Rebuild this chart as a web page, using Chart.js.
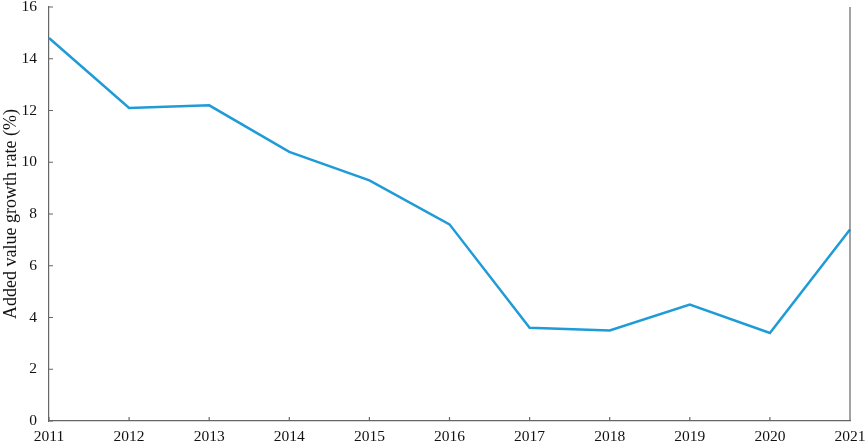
<!DOCTYPE html>
<html lang="en">
<head>
<meta charset="UTF-8" />
<title>Added value growth rate</title>
<style>
  body { margin: 0; background: #fff; }
  #wrap { width: 865px; height: 445px; }
</style>
</head>
<body>
<div id="wrap"><canvas id="growthChart"></canvas></div>
<script src="https://cdn.jsdelivr.net/npm/chart.js"></script>
<script>
  const years = ['2011','2012','2013','2014','2015','2016','2017','2018','2019','2020','2021'];
  const growthRate = [14.8, 12.1, 12.2, 10.4, 9.3, 7.6, 3.6, 3.5, 4.5, 3.4, 7.4];
  const yTicks = [0, 2, 4, 6, 8, 10, 12, 14, 16];

  const axisColor = '#666';
  const serif = "'Liberation Serif', 'Times New Roman', serif";

  // inward tick marks and right border
  const frame = {
    id: 'frame',
    afterDraw(chart) {
      const { ctx, chartArea: a, scales } = chart;
      ctx.save();
      ctx.strokeStyle = axisColor;
      ctx.lineWidth = 1.2;
      ctx.beginPath();
      ctx.moveTo(a.right, a.top);
      ctx.lineTo(a.right, a.bottom);
      yTicks.forEach(v => {
        const y = scales.y.getPixelForValue(v);
        ctx.moveTo(a.left, y);
        ctx.lineTo(a.left + 4, y);
      });
      years.forEach((_, i) => {
        const x = scales.x.getPixelForValue(i);
        ctx.moveTo(x, a.bottom);
        ctx.lineTo(x, a.bottom - 4);
      });
      ctx.stroke();
      ctx.restore();
    }
  };

  new Chart(document.getElementById('growthChart'), {
    type: 'line',
    data: {
      labels: years,
      datasets: [{
        data: growthRate,
        borderColor: '#1f9bd7',
        borderWidth: 2.5,
        pointRadius: 0,
        tension: 0,
        fill: false
      }]
    },
    options: {
      responsive: true,
      maintainAspectRatio: false,
      animation: false,
      layout: { padding: { top: 7, right: 15, left: 0, bottom: 0 } },
      plugins: { legend: { display: false }, tooltip: { enabled: false } },
      scales: {
        x: {
          offset: false,
          grid: { display: false, drawTicks: false },
          border: { color: axisColor, width: 1.2 },
          ticks: { color: '#111', font: { family: serif, size: 15.5 }, maxRotation: 0, autoSkip: false, padding: 7 },
          afterFit: s => { s.height = 24; s.paddingLeft = 0; s.paddingRight = 0; }
        },
        y: {
          min: 0,
          max: 16,
          grid: { display: false, drawTicks: false },
          border: { color: axisColor, width: 1.2 },
          ticks: { stepSize: 2, color: '#111', font: { family: serif, size: 15.5 }, padding: 12 },
          title: { display: true, text: 'Added value growth rate (%)', color: '#111', font: { family: serif, size: 18 }, padding: 0 },
          afterFit: s => { s.width = 49; s.paddingTop = 0; s.paddingBottom = 0; }
        }
      }
    },
    plugins: [frame]
  });
</script>
</body>
</html>
